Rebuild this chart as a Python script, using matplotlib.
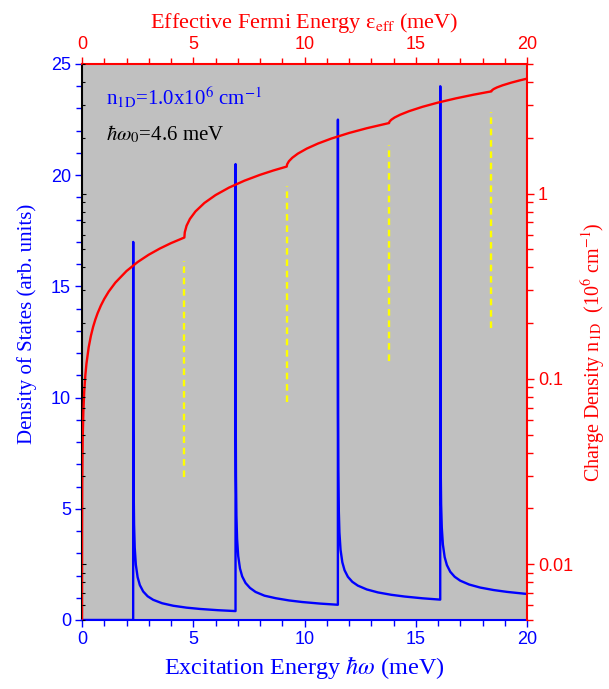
import matplotlib
matplotlib.use('Agg')
import matplotlib.pyplot as plt
from matplotlib.ticker import MultipleLocator, LogLocator, NullFormatter, FixedFormatter, FixedLocator

# density of states: onsets of the subbands and the 1/sqrt tails behind them
dos_onsets = [2.3, 6.9, 11.5, 16.1]
dos_offsets = [0.002, 0.005, 0.01, 0.02, 0.04, 0.07, 0.12, 0.2, 0.3, 0.45,
               0.65, 0.9, 1.3, 1.8, 2.4, 3.0, 3.8, 4.6]
dos_segments = [
    [17.0, 12.16, 8.6, 6.08, 4.3, 3.25, 2.483, 1.923, 1.570, 1.282,
     1.067, 0.907, 0.754, 0.641, 0.555, 0.497, 0.441, 0.401],
    [20.5, 12.56, 9.00, 6.48, 4.70, 3.65, 2.879, 2.316, 1.959, 1.665,
     1.442, 1.261, 1.094, 0.981, 0.880, 0.808, 0.738, 0.685],
    [22.5, 12.84, 9.28, 6.76, 4.98, 3.93, 3.16, 2.596, 2.238, 1.942,
     1.716, 1.544, 1.374, 1.240, 1.133, 1.055, 0.976, 0.916],
    [24.0, 13.08, 9.52, 6.99, 5.21, 4.16, 3.391, 2.826, 2.467, 2.169,
     1.943, 1.768, 1.595, 1.458, 1.347, 1.264, 1.181, 1.117],
]

# charge density vs effective fermi energy (right / top axes)
eff_energy = [0.0003, 0.0004, 0.001, 0.003, 0.01, 0.03, 0.06, 0.1, 0.15, 0.2, 0.3, 0.4,
              0.5, 0.6, 0.7, 0.85, 1.0, 1.2, 1.5, 2.0, 2.5, 3.0, 3.5, 4.0, 4.6,
              4.62, 4.7, 4.85, 5.1, 5.5, 6.0, 6.6, 7.3, 8.0, 8.6, 9.2,
              9.22, 9.3, 9.45, 9.7, 10.1, 10.6, 11.2, 12.0, 12.8, 13.8,
              13.82, 13.9, 14.05, 14.3, 14.7, 15.3, 16.0, 16.8, 17.6, 18.4,
              18.42, 18.5, 18.65, 18.9, 19.3, 19.7, 20.0]
n1d = [0.00468, 0.0054, 0.00854, 0.01479, 0.027, 0.04677, 0.0661, 0.0854, 0.1046, 0.1207,
       0.1479, 0.1708, 0.1909, 0.2091, 0.2259, 0.2489, 0.27, 0.2958, 0.3307,
       0.3818, 0.4269, 0.4677, 0.5051, 0.54, 0.5791,
       0.6185, 0.6707, 0.7296, 0.8007, 0.8894, 0.9808, 1.0755, 1.1732, 1.2615, 1.3318, 1.3981,
       1.4383, 1.4941, 1.5596, 1.6416, 1.7474, 1.8599, 1.9790, 2.1216, 2.2514, 2.4011,
       2.4421, 2.5007, 2.5717, 2.6626, 2.7826, 2.9368, 3.0962, 3.2617, 3.4151, 3.5592,
       3.6009, 3.6621, 3.7377, 3.8364, 3.9688, 4.0862, 4.168]

# yellow dashed markers at the subband edges (DOS units)
edge_x = [4.6, 9.2, 13.8, 18.4]
edge_lo = [6.45, 9.8, 11.65, 13.15]
edge_hi = [16.15, 19.5, 21.35, 22.85]

BLUE = '#0000ff'
RED = '#ff0000'
SANS = 'Liberation Sans'
SERIF = 'Liberation Serif'

plt.rcParams['font.family'] = [SERIF, 'DejaVu Serif']
plt.rcParams['mathtext.fontset'] = 'stix'

fig = plt.figure(figsize=(6.09, 6.89), dpi=100)
pos = [82 / 609, 69 / 689, 445 / 609, 556 / 689]
ax = fig.add_axes(pos)
ax.set_facecolor('#c0c0c0')

dos_x = [0, 2.3]
dos_y = [0, 0]
for onset, seg in zip(dos_onsets, dos_segments):
    for d, v in zip(dos_offsets, seg):
        dos_x.append(onset + d)
        dos_y.append(v)
ax.plot(dos_x, dos_y, color=BLUE, lw=1.7, zorder=3)

for x, lo, hi in zip(edge_x, edge_lo, edge_hi):
    ax.plot([x, x], [lo, hi], color='#ffff00', lw=1.7, dashes=(2.8, 2.0), zorder=2)

ax.set_xlim(0, 20)
ax.set_ylim(0, 25)
ax.xaxis.set_major_locator(MultipleLocator(5))
ax.xaxis.set_minor_locator(MultipleLocator(1))
ax.yaxis.set_major_locator(MultipleLocator(5))
ax.yaxis.set_minor_locator(MultipleLocator(1))
ax.tick_params(which='both', direction='out', colors=BLUE, labelsize=13, pad=3)
ax.tick_params(which='major', length=5, width=1)
ax.tick_params(which='minor', length=4, width=1)
for lab in ax.get_xticklabels() + ax.get_yticklabels():
    lab.set_fontfamily(SANS)
ax.spines['bottom'].set_color(BLUE)
ax.spines['bottom'].set_linewidth(1.5)
ax.spines['left'].set_color('black')
ax.spines['left'].set_linewidth(1.5)
ax.spines['top'].set_visible(False)
ax.spines['right'].set_visible(False)
ax.set_xlabel(r'Excitation Energy $\hbar\omega$ (meV)', color=BLUE, fontsize=17.5, labelpad=4)
ax.set_ylabel('Density of States (arb. units)', color=BLUE, fontsize=15)
ax.yaxis.set_label_coords(-0.101, 0.532)

ax.text(0.054, 0.94, r'n$_{\rm 1D}$=1.0x10$^{6}$ cm$^{-1}$', transform=ax.transAxes,
        color=BLUE, fontsize=15, va='center', ha='left')
ax.text(0.054, 0.874, r'$\hbar\omega_0$=4.6 meV', transform=ax.transAxes,
        color='black', fontsize=15, va='center', ha='left')

# red axes: top x (fermi energy) and right log y (charge density)
ax2 = fig.add_axes(pos, facecolor='none')
ax2.plot(eff_energy, n1d, color=RED, lw=1.7, zorder=3)
ax2.set_xlim(0, 20)
ax2.set_yscale('log')
ax2.set_ylim(0.005, 5)
ax2.xaxis.tick_top()
ax2.xaxis.set_label_position('top')
ax2.yaxis.tick_right()
ax2.yaxis.set_label_position('right')
ax2.xaxis.set_major_locator(MultipleLocator(5))
ax2.xaxis.set_minor_locator(MultipleLocator(1))
ax2.yaxis.set_major_locator(FixedLocator([0.01, 0.1, 1]))
ax2.yaxis.set_major_formatter(FixedFormatter(['0.01', '0.1', '1']))
ax2.yaxis.set_minor_locator(LogLocator(base=10, subs=range(2, 10)))
ax2.yaxis.set_minor_formatter(NullFormatter())
ax2.tick_params(which='both', direction='out', colors=RED, labelsize=13, pad=3)
ax2.tick_params(which='major', length=5, width=1)
ax2.tick_params(which='minor', length=4, width=1)
for lab in ax2.get_xticklabels() + ax2.get_yticklabels():
    lab.set_fontfamily(SANS)
for side in ['bottom', 'left']:
    ax2.spines[side].set_visible(False)
for side in ['top', 'right']:
    ax2.spines[side].set_color(RED)
    ax2.spines[side].set_linewidth(1.5)
ax2.set_xlabel(r'Effective Fermi Energy ε$_{\rm eff}$ (meV)', color=RED, fontsize=16, labelpad=6)
ax2.set_ylabel(r'Charge Density n$_{\rm 1D}$  (10$^{6}$ cm$^{-1}$)', color=RED, fontsize=14.5,
               rotation=90)
ax2.yaxis.set_label_coords(1.119, 0.482)

# small black inward log ticks mirrored on the left spine
ax3 = fig.add_axes(pos, facecolor='none')
ax3.set_yscale('log')
ax3.set_ylim(0.005, 5)
ax3.set_xlim(0, 20)
ax3.set_xticks([])
ax3.yaxis.set_major_locator(FixedLocator([0.01, 0.1, 1]))
ax3.yaxis.set_minor_locator(LogLocator(base=10, subs=range(2, 10)))
ax3.tick_params(which='both', direction='in', colors='black', left=True, right=False,
                labelleft=False, labelright=False)
ax3.tick_params(which='major', length=3, width=0.8)
ax3.tick_params(which='minor', length=2, width=0.8)
for s in ax3.spines.values():
    s.set_visible(False)

fig.savefig('out.png', dpi=100)
